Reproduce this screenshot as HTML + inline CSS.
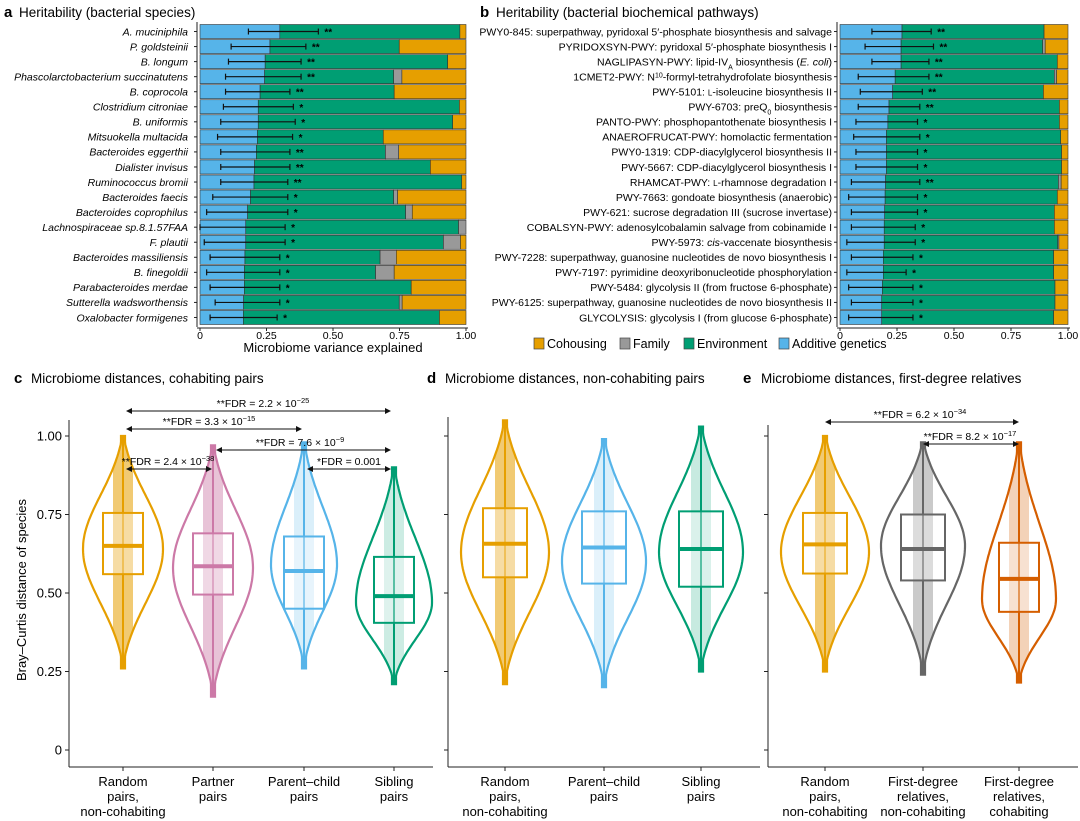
<!DOCTYPE html>
<html><head><meta charset="utf-8">
<style>
html,body{margin:0;padding:0;background:#fff}
svg{display:block;font-family:"Liberation Sans",Arial,sans-serif}
</style></head>
<body>
<svg id="fig" width="1080" height="821" viewBox="0 0 1080 821" xmlns="http://www.w3.org/2000/svg">
<g><text x="4" y="17" font-size="15" font-weight="bold">a</text><text x="19" y="17" font-size="13.5">Heritability (bacterial species)</text></g>
<g><text x="480" y="17" font-size="15" font-weight="bold">b</text><text x="496" y="17" font-size="13.5">Heritability (bacterial biochemical pathways)</text></g>
<g><text x="14" y="383" font-size="15" font-weight="bold">c</text><text x="31" y="383" font-size="13.5">Microbiome distances, cohabiting pairs</text></g>
<g><text x="427" y="383" font-size="15" font-weight="bold">d</text><text x="445" y="383" font-size="13.5">Microbiome distances, non-cohabiting pairs</text></g>
<g><text x="743" y="383" font-size="15" font-weight="bold">e</text><text x="761" y="383" font-size="13.5">Microbiome distances, first-degree relatives</text></g>
<text x="333" y="352" font-size="13" text-anchor="middle">Microbiome variance explained</text>
<text transform="translate(26,590) rotate(-90)" font-size="13" text-anchor="middle">Bray–Curtis distance of species</text>
<g id="legend"></g>
<g id="pa"></g><g id="pb"></g><g id="pc"></g><g id="pd"></g><g id="pe"></g>
</svg>
<script>
// ---------- Panel a data ----------
const speciesNames = ["A. muciniphila","P. goldsteinii","B. longum","Phascolarctobacterium succinatutens","B. coprocola","Clostridium citroniae","B. uniformis","Mitsuokella multacida","Bacteroides eggerthii","Dialister invisus","Ruminococcus bromii","Bacteroides faecis","Bacteroides coprophilus","Lachnospiraceae sp.8.1.57FAA","F. plautii","Bacteroides massiliensis","B. finegoldii","Parabacteroides merdae","Sutterella wadsworthensis","Oxalobacter formigenes"];
const speciesAdditive = [0.30,0.263,0.245,0.243,0.226,0.219,0.219,0.216,0.212,0.205,0.203,0.19,0.179,0.172,0.172,0.169,0.167,0.167,0.164,0.163];
const speciesEnvironment = [0.677,0.486,0.686,0.485,0.504,0.756,0.731,0.473,0.485,0.661,0.781,0.538,0.594,0.80,0.743,0.508,0.493,0.627,0.585,0.737];
const speciesFamily = [0,0,0,0.031,0,0,0,0,0.05,0,0,0.015,0.025,0.028,0.064,0.061,0.07,0,0.011,0];
const speciesErrLo = [0.182,0.117,0.107,0.096,0.096,0.088,0.078,0.066,0.078,0.078,0.078,0.048,0.025,0.0,0.016,0.038,0.025,0.038,0.057,0.038];
const speciesErrHi = [0.445,0.398,0.38,0.38,0.338,0.351,0.358,0.348,0.338,0.338,0.33,0.33,0.33,0.32,0.32,0.30,0.30,0.30,0.30,0.29];
const speciesStars = ["**","**","**","**","**","*","*","*","**","**","**","*","*","*","*","*","*","*","*","*"];
// ---------- Panel b data ----------
const pathwayNames = ["PWY0-845: superpathway, pyridoxal 5′-phosphate biosynthesis and salvage","PYRIDOXSYN-PWY: pyridoxal 5′-phosphate biosynthesis I","NAGLIPASYN-PWY: lipid-IV<tspan baseline-shift='sub' font-size='7'>A</tspan> biosynthesis (<tspan font-style='italic'>E. coli</tspan>)","1CMET2-PWY: N<tspan baseline-shift='super' font-size='7'>10</tspan>-formyl-tetrahydrofolate biosynthesis","PWY-5101: <tspan font-size='8'>L</tspan>-isoleucine biosynthesis II","PWY-6703: preQ<tspan baseline-shift='sub' font-size='7'>0</tspan> biosynthesis","PANTO-PWY: phosphopantothenate biosynthesis I","ANAEROFRUCAT-PWY: homolactic fermentation","PWY0-1319: CDP-diacylglycerol biosynthesis II","PWY-5667: CDP-diacylglycerol biosynthesis I","RHAMCAT-PWY: <tspan font-size='8'>L</tspan>-rhamnose degradation I","PWY-7663: gondoate biosynthesis (anaerobic)","PWY-621: sucrose degradation III (sucrose invertase)","COBALSYN-PWY: adenosylcobalamin salvage from cobinamide I","PWY-5973: <tspan font-style='italic'>cis</tspan>-vaccenate biosynthesis","PWY-7228: superpathway, guanosine nucleotides de novo biosynthesis I","PWY-7197: pyrimidine deoxyribonucleotide phosphorylation","PWY-5484: glycolysis II (from fructose 6-phosphate)","PWY-6125: superpathway, guanosine nucleotides de novo biosynthesis II","GLYCOLYSIS: glycolysis I (from glucose 6-phosphate)"];
const pathwayAdditive = [0.272,0.268,0.268,0.242,0.231,0.215,0.21,0.204,0.204,0.204,0.20,0.198,0.196,0.194,0.194,0.19,0.19,0.186,0.183,0.183];
const pathwayEnvironment = [0.623,0.621,0.685,0.698,0.661,0.747,0.752,0.764,0.768,0.768,0.758,0.755,0.744,0.746,0.761,0.747,0.747,0.757,0.76,0.754];
const pathwayFamily = [0,0.011,0,0.01,0,0,0,0,0,0,0.012,0,0,0,0.005,0,0,0,0,0];
const pathwayErrLo = [0.14,0.11,0.14,0.08,0.089,0.08,0.07,0.06,0.07,0.07,0.05,0.038,0.05,0.05,0.03,0.05,0.03,0.038,0.05,0.038];
const pathwayErrHi = [0.40,0.41,0.39,0.39,0.361,0.35,0.34,0.35,0.34,0.34,0.35,0.34,0.34,0.33,0.33,0.32,0.29,0.32,0.32,0.32];
const pathwayStars = ["**","**","**","**","**","**","*","*","*","*","**","*","*","*","*","*","*","*","*","*"];
const barTicks = [0,0.25,0.5,0.75,1];
const barTickLabels = ["0","0.25","0.50","0.75","1.00"];
const legendLabels = ["Cohousing","Family","Environment","Additive genetics"];
// ---------- Violin data (panels c, d, e) ----------
const cGroups = ["Random|pairs,|non-cohabiting","Partner|pairs","Parent–child|pairs","Sibling|pairs"];
const cMin = [0.26,0.17,0.26,0.21], cMax = [1.0,0.97,0.98,0.90], cMode = [0.64,0.58,0.59,0.47];
const cQ1 = [0.56,0.495,0.45,0.405], cMed = [0.65,0.585,0.57,0.49], cQ3 = [0.755,0.69,0.68,0.615];
const dGroups = ["Random|pairs,|non-cohabiting","Parent–child|pairs","Sibling|pairs"];
const dMin = [0.21,0.20,0.25], dMax = [1.05,0.99,1.03], dMode = [0.63,0.60,0.63];
const dQ1 = [0.55,0.53,0.52], dMed = [0.657,0.645,0.64], dQ3 = [0.77,0.76,0.76];
const eGroups = ["Random|pairs,|non-cohabiting","First-degree|relatives,|non-cohabiting","First-degree|relatives,|cohabiting"];
const eMin = [0.25,0.24,0.215], eMax = [1.0,0.98,0.98], eMode = [0.63,0.65,0.48];
const eQ1 = [0.562,0.54,0.44], eMed = [0.655,0.64,0.545], eQ3 = [0.755,0.75,0.66];
const yTicks = [0,0.25,0.5,0.75,1];
const yTickLabels = ["0","0.25","0.50","0.75","1.00"];

const NS="http://www.w3.org/2000/svg";
function mk(tag,attrs,parent){const e=document.createElementNS(NS,tag);for(const k in attrs)e.setAttribute(k,attrs[k]);if(parent)parent.appendChild(e);return e;}
const COL={coh:"#E69F00",fam:"#999999",env:"#009E73",add:"#56B4E9"};

function barPanel(gid,x0,x1,names,add,env,fam,lo,hi,stars,italic,labelX){
  const g=document.getElementById(gid);
  
  
  const X=v=>x0+v*(x1-x0);
  const top=24, rh=15.05;
  mk('line',{x1:x0-3,x2:x0-3,y1:top-2,y2:top+20*rh+2,stroke:'#222','stroke-width':1},g);
  mk('line',{x1:x0-3,x2:x1+2,y1:top+20*rh+3,y2:top+20*rh+3,stroke:'#222','stroke-width':1},g);
  barTicks.forEach((t,i)=>{
    mk('line',{x1:X(t),x2:X(t),y1:top+20*rh+3,y2:top+20*rh+6,stroke:'#222'},g);
    const tl=mk('text',{x:X(t),y:top+20*rh+14,'font-size':10.5,'text-anchor':'middle'},g);
    
    
    tl.textContent=barTickLabels[i];
  });
  names.forEach((n,i)=>{
    const y=top+i*rh, cy=y+rh/2;
    const row=mk('g',{},g);
    
    
    const a=add[i],e=env[i],f=fam[i];
    const segs=[[0,a,COL.add],[a,a+e,COL.env],[a+e,a+e+f,COL.fam],[a+e+f,1,COL.coh]];
    segs.forEach(s=>{ if(s[1]-s[0]>0.0005){
      const r=mk('rect',{x:X(s[0]),y:y+0.5,width:X(s[1])-X(s[0]),height:rh-1,fill:s[2],stroke:'#333','stroke-width':0.6},row);
      
      
    }});
    mk('line',{x1:x0-6,x2:x0-3,y1:cy,y2:cy,stroke:'#222'},row);
    mk('line',{x1:X(lo[i]),x2:X(hi[i]),y1:cy,y2:cy,stroke:'#111','stroke-width':1.2},row);
    mk('line',{x1:X(lo[i]),x2:X(lo[i]),y1:cy-3,y2:cy+3,stroke:'#111','stroke-width':1.2},row);
    mk('line',{x1:X(hi[i]),x2:X(hi[i]),y1:cy-3,y2:cy+3,stroke:'#111','stroke-width':1.2},row);
    const st=mk('text',{x:X(hi[i])+6,y:cy+4,'font-size':10,'font-weight':'bold'},row);
    st.textContent=stars[i];
    const lb=mk('text',{x:labelX,y:cy+3.8,'font-size':10.5,'text-anchor':'end','font-style':italic?'italic':'normal'},row);
    
    
    lb.innerHTML=n;
  });
}
barPanel('pa',200,466,speciesNames,speciesAdditive,speciesEnvironment,speciesFamily,speciesErrLo,speciesErrHi,speciesStars,true,188);
barPanel('pb',840,1068,pathwayNames,pathwayAdditive,pathwayEnvironment,pathwayFamily,pathwayErrLo,pathwayErrHi,pathwayStars,false,832);

// legend
(function(){
  const lg=document.getElementById('legend');
  const cols=[COL.coh,COL.fam,COL.env,COL.add];
  const xs=[534,620,684,779];
  legendLabels.forEach((l,i)=>{
    const it=mk('g',{},lg);
    
    
    mk('rect',{x:xs[i],y:338,width:10,height:11,fill:cols[i],stroke:'#444','stroke-width':0.7},it);
    const t=mk('text',{x:xs[i]+13,y:348,'font-size':12.5},it);
    t.textContent=l;
  });
})();

// violin panels
const Y=v=>750-v*314;
function violinPanel(gid,name,axX,axEnd,axTop,cats,groups,mn,mx,mode,q1,med,q3,colors,W,dens,showLabels){
  const g=document.getElementById(gid);
  
  
  mk('line',{x1:axX,x2:axX,y1:axTop,y2:767,stroke:'#222','stroke-width':1},g);
  mk('line',{x1:axX,x2:axEnd,y1:767,y2:767,stroke:'#222','stroke-width':1},g);
  yTicks.forEach((t,i)=>{
    mk('line',{x1:axX-4,x2:axX,y1:Y(t),y2:Y(t),stroke:'#222'},g);
    if(showLabels){const tl=mk('text',{x:axX-7,y:Y(t)+4.5,'font-size':13,'text-anchor':'end'},g);
      
      
      tl.textContent=yTickLabels[i];}
  });
  groups.forEach((lab,i)=>{
    const cx=cats[i], c=colors[i];
    const vg=mk('g',{},g);
    
    
    mk('line',{x1:cx,x2:cx,y1:767,y2:771,stroke:'#222'},g);
    const sdL=(mode[i]-mn[i])/2.2, sdH=(mx[i]-mode[i])/2.1;
    const hw=v=>{const s=v<mode[i]?sdL:sdH;const z=(v-mode[i])/s;return Math.max(2,W[i]*(Math.exp(-0.5*z*z)-0.1)/0.9);};
    let R=[],L=[];
    for(let k=0;k<=80;k++){const v=mn[i]+(mx[i]-mn[i])*k/80;R.push([cx+hw(v),Y(v)]);L.push([cx-hw(v),Y(v)]);}
    const pts=R.concat(L.reverse());
    const d='M'+pts.map(p=>p[0].toFixed(1)+','+p[1].toFixed(1)).join('L')+'Z';
    const cid=gid+'clip'+i;
    const cp=mk('clipPath',{id:cid},vg); mk('path',{d:d},cp);
    const cloud=mk('rect',{x:cx-10,y:Y(mx[i]),width:20,height:Y(mn[i])-Y(mx[i]),fill:c,opacity:dens[i],'clip-path':'url(#'+cid+')'},vg);
    
    
    mk('line',{x1:cx,x2:cx,y1:Y(mx[i]),y2:Y(mn[i]),stroke:c,'stroke-width':2},vg);
    const bw=W[i]>40?22:20;
    const bx=mk('rect',{x:cx-bw,y:Y(q3[i]),width:2*bw,height:Y(q1[i])-Y(q3[i]),fill:'#fff','fill-opacity':0.35,stroke:c,'stroke-width':2},vg);
    
    
    mk('line',{x1:cx-bw,x2:cx+bw,y1:Y(med[i]),y2:Y(med[i]),stroke:c,'stroke-width':4},vg);
    const vp=mk('path',{d:d,fill:'none',stroke:c,'stroke-width':2.2},vg);
    
    
    const parts=lab.split('|');
    const t=mk('text',{x:cx,y:786,'font-size':13,'text-anchor':'middle'},g);
    
    
    parts.forEach((p,j)=>{const ts=mk('tspan',{x:cx,dy:j?15:0},t);ts.textContent=p;});
  });
}
violinPanel('pc','panel-c-violins',69,433,420,[123,213,304,394],cGroups,cMin,cMax,cMode,cQ1,cMed,cQ3,["#E69F00","#CC79A7","#56B4E9","#009E73"],[40,40,33,38],[0.55,0.45,0.22,0.2],true);
violinPanel('pd','panel-d-violins',448,760,417,[505,604,701],dGroups,dMin,dMax,dMode,dQ1,dMed,dQ3,["#E69F00","#56B4E9","#009E73"],[44,42,42],[0.55,0.22,0.22],false);
violinPanel('pe','panel-e-violins',768,1078,425,[825,923,1019],eGroups,eMin,eMax,eMode,eQ1,eMed,eQ3,["#E69F00","#666666","#D55E00"],[44,42,37],[0.55,0.35,0.28],false);

// significance annotations
function sig(parent,x1,x2,y,label,sup,tx){
  const g=mk('g',{},parent);
  
  
  mk('line',{x1:x1+4,x2:x2-4,y1:y,y2:y,stroke:'#111','stroke-width':1},g);
  mk('path',{d:`M${x1},${y}l6,-3v6z M${x2},${y}l-6,-3v6z`,fill:'#111'},g);
  const t=mk('text',{x:tx,y:y-4,'font-size':10.5,'text-anchor':'middle'},g);
  t.textContent=label;
  if(sup){const s=mk('tspan',{'baseline-shift':'super','font-size':7.5},t);s.textContent=sup;}
}
const pc=document.getElementById('pc'), pe=document.getElementById('pe');
sig(pc,126,391,411,"**FDR = 2.2 × 10","−25",263);
sig(pc,126,302,429,"**FDR = 3.3 × 10","−15",209);
sig(pc,216,391,450,"**FDR = 7.6 × 10","−9",300);
sig(pc,126,212,469,"**FDR = 2.4 × 10","−38",168);
sig(pc,307,391,469,"*FDR = 0.001","",349);
sig(pe,825,1019,422,"**FDR = 6.2 × 10","−34",920);
sig(pe,923,1019,444,"**FDR = 8.2 × 10","−17",970);
</script>
</body></html>
